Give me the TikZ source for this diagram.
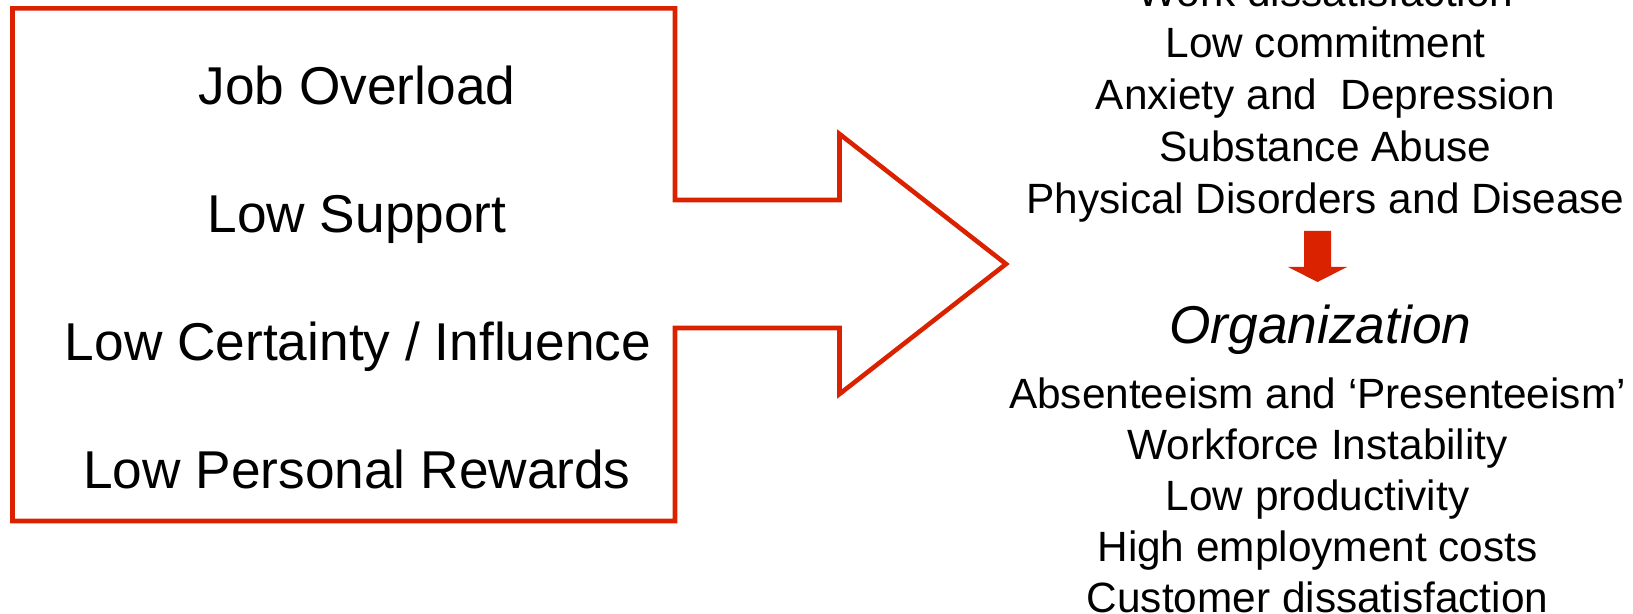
\documentclass[tikz,border=0pt]{standalone}
\usepackage{fontspec}
\setmainfont{Liberation Sans}
\definecolor{alarmred}{RGB}{218,34,0}
\tikzset{
	bigitem/.style={anchor=base,inner sep=0pt,font=\fontsize{30.3}{36}\selectfont},
	smallitem/.style={anchor=base,inner sep=0pt,font=\fontsize{24.1}{29}\selectfont}
}
\begin{document}
\begin{tikzpicture}
	\useasboundingbox (0,0) rectangle (32.66,-12.28);
	% stressors
	\path node (job) at (7.14,-2.1) [bigitem] {Job Overload}
		  node (support) at (7.14,-4.66) [bigitem] {Low Support}
		  node (certainty) at (7.16,-7.22) [bigitem] {Low Certainty / Influence}
		  node (rewards) at (7.14,-9.77) [bigitem] {Low Personal Rewards};
	% individual outcomes
	\path node (workdis) at (26.51,-0.13) [smallitem] {Work dissatisfaction}
		  node (commit) at (26.51,-1.16) [smallitem] {Low commitment}
		  node (anxiety) at (26.51,-2.2) [smallitem] {Anxiety and\ \ Depression}
		  node (abuse) at (26.51,-3.24) [smallitem] {Substance Abuse}
		  node (disease) at (26.51,-4.27) [smallitem] {Physical Disorders and Disease};
	% organizational outcomes
	\path node (org) at (26.41,-6.88) [bigitem] {\itshape Organization}
		  node (absent) at (26.35,-8.17) [smallitem] {Absenteeism and ‘Presenteeism’}
		  node (instab) at (26.35,-9.19) [smallitem] {Workforce Instability}
		  node (prod) at (26.35,-10.2) [smallitem] {Low productivity}
		  node (costs) at (26.35,-11.23) [smallitem] {High employment costs}
		  node (customer) at (26.35,-12.24) [smallitem] {Customer dissatisfaction};
	\draw [alarmred,line width=2.6pt,line join=miter]
		(.25,-.166) -- (13.5,-.166) -- (13.5,-4) -- (16.79,-4) -- (16.79,-2.68)
		-- (20.12,-5.28) -- (16.79,-7.88) -- (16.79,-6.56) -- (13.5,-6.56)
		-- (13.5,-10.42) -- (.25,-10.42) -- cycle;
	\fill [alarmred] (26.08,-4.62) -- (26.62,-4.62) -- (26.62,-5.34) -- (26.94,-5.34)
		-- (26.35,-5.64) -- (25.76,-5.34) -- (26.08,-5.34) -- cycle;
\end{tikzpicture}
\end{document}
